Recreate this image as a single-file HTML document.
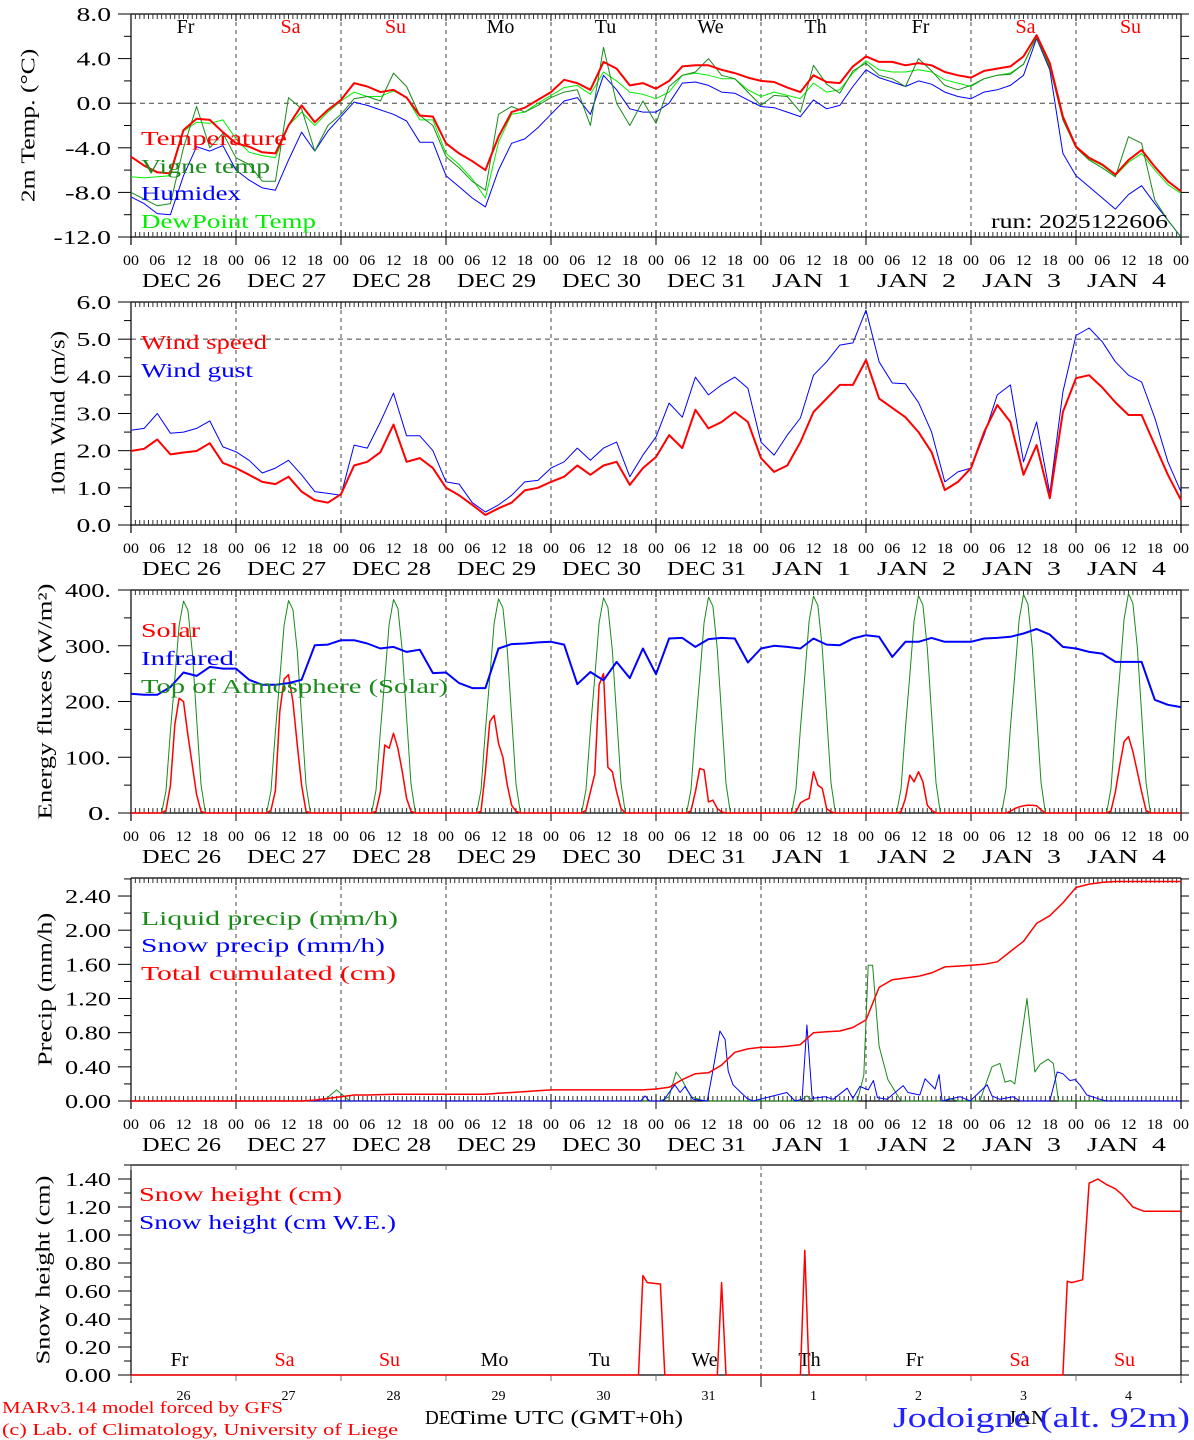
<!DOCTYPE html>
<html><head><meta charset="utf-8">
<style>
html,body{margin:0;padding:0;background:#fff;}
svg{display:block;font-family:"Liberation Serif","DejaVu Serif",serif;}
</style></head>
<body>
<svg id="chart" width="1194" height="1440" viewBox="0 0 1194 1440" xmlns="http://www.w3.org/2000/svg"></svg>
<script>
// ---------- DATA (3-hourly, hours 0..240 from DEC 26 00 UTC) ----------
const temperature = [-4.8,-5.6,-6.2,-6.3,-2.4,-1.4,-1.5,-2.6, -3.6,-3.9,-4.4,-4.5,-2.0,-0.2,-1.7,-0.6, 0.3,1.8,1.5,1.0,1.2,0.5,-1.1,-1.2, -3.6,-4.5,-5.2,-6.0,-3.0,-0.8,-0.4,0.3, 1.0,2.1,1.8,1.2,3.7,3.1,1.6,1.8, 1.3,2.0,3.3,3.4,3.4,3.0,2.7,2.3, 2.0,1.9,1.4,1.0,2.5,1.9,1.8,3.3, 4.2,3.7,3.7,3.4,3.6,3.4,2.8,2.5, 2.3,2.9,3.1,3.3,4.2,6.1,3.6,-1.2, -3.9,-4.9,-5.5,-6.4,-5.1,-4.2,-5.7,-7.0, -7.9];
const vigneTemp = [-8.0,-8.6,-9.2,-9.0,-4.0,-0.3,-4.0,-2.7, -4.9,-5.5,-7.0,-7.0,0.5,-0.5,-4.3,-2.0, -1.0,0.4,0.6,0.2,2.7,1.5,-1.1,-2.0, -4.8,-5.8,-7.0,-7.8,-1.0,-0.3,-0.8,-0.2, 0.5,1.0,1.2,-2.0,5.0,0.0,-2.0,0.2, -1.8,1.5,2.5,2.8,4.0,2.5,2.2,1.0, -0.2,0.7,0.6,-0.8,3.4,1.7,0.9,2.9, 3.6,2.5,2.2,1.5,4.0,2.9,1.6,1.2, 1.6,2.2,2.5,2.6,3.5,5.9,3.2,-1.5, -4.0,-5.1,-5.8,-6.6,-3.0,-3.6,-8.7,-10.5, -12.0];
const humidex = [-8.4,-9.0,-9.9,-10.0,-6.5,-3.9,-4.3,-3.8, -6.0,-6.9,-7.6,-7.8,-5.1,-2.6,-4.3,-2.5, -1.2,0.1,-0.2,-0.6,-1.0,-1.6,-3.5,-3.5, -6.5,-7.5,-8.5,-9.3,-6.0,-3.6,-3.2,-2.2, -1.0,0.2,0.5,-1.0,2.5,1.2,-0.5,-0.8, -0.8,0.0,1.8,1.9,1.6,1.0,0.9,0.3, -0.3,-0.4,-0.8,-1.2,0.3,-0.5,-0.2,1.5, 3.0,2.3,1.9,1.5,2.0,1.7,1.0,0.6, 0.4,1.0,1.2,1.6,2.5,5.8,3.0,-4.5, -6.5,-7.5,-8.5,-9.5,-8.2,-7.4,-9.0,-10.5, -12.0];
const dewPoint = [-6.6,-6.7,-6.6,-6.5,-2.5,-1.7,-1.8,-1.5, -3.2,-4.4,-4.7,-4.9,-2.0,-0.8,-2.0,-0.8, 0.2,1.0,0.6,0.6,1.1,0.5,-1.5,-1.5, -4.5,-5.5,-6.8,-8.5,-3.5,-1.0,-0.8,0.0, 0.7,1.4,1.6,0.8,2.8,2.0,1.0,0.8, 0.4,1.0,2.5,2.7,2.5,2.2,2.2,1.2, 0.6,1.0,0.7,0.4,1.8,1.0,1.2,2.7, 3.8,3.0,2.8,2.8,3.0,2.8,2.1,1.8, 1.5,2.2,2.5,2.7,3.5,6.0,3.4,-1.5, -4.0,-5.0,-5.6,-6.5,-5.3,-4.5,-6.0,-7.3, -8.1];

const windSpeed = [1.99,2.05,2.3,1.9,1.95,1.99,2.2,1.67, 1.53,1.35,1.16,1.1,1.3,0.9,0.67,0.6, 0.83,1.6,1.7,1.96,2.7,1.7,1.8,1.53, 1.0,0.8,0.54,0.27,0.45,0.6,0.93,1.0, 1.16,1.3,1.6,1.35,1.6,1.7,1.08,1.53, 1.83,2.42,2.07,3.1,2.6,2.77,3.04,2.77, 1.8,1.43,1.6,2.23,3.04,3.4,3.77,3.77, 4.44,3.4,3.15,2.9,2.5,1.96,0.94,1.16, 1.53,2.5,3.23,2.77,1.35,2.15,0.72,3.04, 3.95,4.03,3.7,3.3,2.96,2.96,2.15,1.35, 0.67];
const windGust = [2.55,2.6,3.0,2.47,2.5,2.6,2.8,2.1, 1.97,1.74,1.4,1.53,1.74,1.35,0.9,0.85, 0.8,2.15,2.07,2.77,3.55,2.4,2.4,2.0, 1.16,1.1,0.6,0.35,0.54,0.8,1.16,1.2, 1.53,1.7,2.07,1.74,2.07,2.23,1.3,1.88, 2.37,3.28,2.9,3.98,3.5,3.77,3.98,3.68, 2.23,1.88,2.42,2.88,4.03,4.39,4.84,4.9, 5.78,4.39,3.82,3.8,3.3,2.5,1.16,1.43, 1.53,2.42,3.5,3.77,1.7,2.77,0.85,3.58, 5.1,5.3,4.93,4.39,4.03,3.85,2.88,1.7, 0.89];

const infrared = [214,212,212,226,252,246,262,259, 259,239,230,230,233,239,301,302, 310,310,304,295,298,289,293,251, 252,233,224,224,295,303,304,306, 307,302,231,253,238,271,242,295, 249,313,314,298,312,314,313,270, 295,300,298,295,313,302,301,313, 319,316,280,307,307,314,307,307, 307,313,314,316,322,330,320,298, 295,289,286,271,271,271,203,194, 190];

// hourly daytime values, hours 06..18 of each day
const solarDays = [
 [0,0,5,49,158,206,200,140,86,33,3,0,0],
 [0,0,5,40,182,240,248,200,122,50,3,0,0],
 [0,0,3,38,122,116,143,116,74,26,3,0,0],
 [0,0,3,74,164,175,125,100,50,14,3,0,0],
 [0,0,5,38,70,230,250,82,74,38,8,0,0],
 [0,0,4,38,80,77,20,23,8,2,0,0,0],
 [0,0,2,18,23,26,74,50,44,8,2,0,0],
 [0,0,2,26,68,56,74,56,14,5,0,0,0],
 [0,0,0,3,8,11,13,14,14,13,6,0,0],
 [0,0,4,38,86,128,137,110,74,38,5,0,0]
];
const toaDays = [
 [0,0,40,146,240,336,380,364,289,170,51,0,0],
 [0,0,40,146,241,337,381,365,290,171,51,0,0],
 [0,0,41,147,242,338,383,367,291,172,52,0,0],
 [0,0,41,148,243,340,384,368,292,173,52,0,0],
 [0,0,42,149,244,341,386,369,293,174,53,0,0],
 [0,0,42,150,245,342,387,371,294,175,53,0,0],
 [0,0,43,151,246,344,389,372,295,176,54,0,0],
 [0,0,43,152,247,345,390,373,296,177,54,0,0],
 [0,0,44,153,248,346,392,375,297,178,55,0,0],
 [0,0,44,154,249,348,394,376,298,179,55,0,0]
];

const cumHours = [0,39,42,45,48,51,54,57,60,81,84,87,90,93,96,117,120,123,126,129,132,135,138,141,144,147,150,153,156,159,162,165,168,171,174,177,180,183,186,189,192,195,198,201,204,207,210,213,216,219,222,225,240];
const cumPrecip = [0,0,0.01,0.03,0.05,0.07,0.07,0.075,0.08,0.08,0.09,0.10,0.11,0.12,0.13,0.13,0.14,0.16,0.25,0.32,0.33,0.42,0.57,0.61,0.63,0.63,0.64,0.66,0.80,0.81,0.82,0.86,0.95,1.33,1.42,1.44,1.46,1.50,1.57,1.58,1.59,1.60,1.63,1.75,1.87,2.08,2.17,2.32,2.50,2.54,2.56,2.57,2.57];
const liqHours = [0,44,47,50,121,123,124.6,126,128,131,153,154.5,156,166,167.5,168.5,169.5,171,173,176,186,187,189,194,196.8,198.6,199.8,201,202,204.8,206.6,207.8,209.6,210.8,212,240];
const liqPrecip = [0,0,0.13,0,0,0.05,0.34,0.24,0.05,0,0,0.06,0,0,0.3,1.59,1.59,0.64,0.25,0,0,0.03,0,0,0.4,0.44,0.22,0.24,0.2,1.2,0.34,0.43,0.49,0.44,0,0];
const snowPHours = [0,116.5,117.5,118.5,121.6,124.3,125.5,126.6,128.5,131.7,132.8,134.6,135.8,136.5,137.6,140.8,142.2,149.9,151.8,153.4,154.5,155.7,158.6,160.5,163.7,165,166.6,168.5,169.7,170.6,172.8,176.5,177.6,180.3,181.5,183.8,184.7,185.4,189.5,191.8,195.7,196.8,198.6,201.6,203.2,210,211.7,213,214.6,215.8,216.9,218.5,221.5,223,240];
const snowPrecip = [0,0,0.06,0,0,0.19,0.1,0.17,0.02,0,0.3,0.82,0.72,0.35,0.19,0.03,0,0.1,0,0.02,0.89,0.03,0.05,0.02,0.15,0.03,0.17,0.13,0.24,0.04,0.02,0.18,0.1,0.07,0.26,0.14,0.31,0,0.05,0,0.19,0.06,0.02,0.05,0,0,0.34,0.32,0.24,0.25,0.19,0.07,0.02,0,0];

const snowHours = [0,116,117,118,121,122,134,135,136,153,154,155,213,214,215,217.5,219,221,223,225,226.5,229,231.5,240];
const snowHeight = [0,0,0.71,0.66,0.65,0,0,0.66,0,0,0.89,0,0,0.67,0.66,0.68,1.37,1.40,1.36,1.33,1.29,1.20,1.17,1.17];

const dayNames = ["Fr","Sa","Su","Mo","Tu","We","Th","Fr","Sa","Su"];
const dayColors = ["#000","#f00","#f00","#000","#000","#000","#000","#000","#f00","#f00"];
const dateLabels = ["DEC 26","DEC 27","DEC 28","DEC 29","DEC 30","DEC 31","JAN  1","JAN  2","JAN  3","JAN  4"];
const dayNums = ["26","27","28","29","30","31","1","2","3","4"];
const hourLabels = ["00","06","12","18"];

// ---------- helpers ----------
const svg = document.getElementById('chart');
const NS = 'http://www.w3.org/2000/svg';
const X0 = 131, X1 = 1181, PXH = (X1 - X0) / 240;
function X(h){ return X0 + h * PXH; }
function mk(tag, attrs, name){
  const e = document.createElementNS(NS, tag);
  for (const k in attrs) e.setAttribute(k, attrs[k]);
  
  
  svg.appendChild(e);
  return e;
}
function txt(x, y, s, size, fill, anchor, name, len){
  const a = {x:x, y:y, 'font-size':size, fill:fill, 'text-anchor':anchor||'start'};
  if (len) { a.textLength = len; a.lengthAdjust = 'spacingAndGlyphs'; }
  const t = mk('text', a, name);
  t.setAttribute('style', 'white-space:pre');
  t.textContent = s;
  return t;
}
function line(x1,y1,x2,y2,stroke,w,name,dash){
  const a = {x1:x1,y1:y1,x2:x2,y2:y2,stroke:stroke,'stroke-width':w||1};
  if (dash) a['stroke-dasharray'] = dash;
  return mk('line', a, name);
}
function poly(hs, vs, yf, color, w, name){
  const pts = hs.map((h,i) => X(h).toFixed(1) + ',' + yf(vs[i]).toFixed(1)).join(' ');
  return mk('polyline', {points:pts, fill:'none', stroke:color, 'stroke-width':w, 'stroke-linejoin':'round'}, name);
}
const hours3 = Array.from({length:81}, (_, i) => i * 3);
function dayHours(arr){ const hs=[0], vs=[0]; arr.forEach((d,di)=>d.forEach((v,i)=>{hs.push(di*24+6+i); vs.push(v);})); hs.push(240); vs.push(0); return [hs,vs]; }

const panels = [
  {top:14, bot:237, min:-12, max:8, major:4, minor:2, fmt:v=>v.toFixed(1), title:"2m Temp. (°C)", tx:30, zero:0},
  {top:302, bot:525, min:0, max:6, major:1, minor:0.5, fmt:v=>v.toFixed(1), title:"10m Wind (m/s)", tx:60, zero:5},
  {top:590, bot:813, min:0, max:400, major:100, minor:50, fmt:v=>v.toFixed(0)+'.', title:"Energy fluxes (W/m²)", tx:47},
  {top:878, bot:1101, min:0, max:2.611, major:0.4, minor:0.2, fmt:v=>v.toFixed(2), title:"Precip (mm/h)", tx:47, lmax:2.4},
  {top:1165, bot:1375, min:0, max:1.5, major:0.2, minor:0.1, fmt:v=>v.toFixed(2), title:"Snow height (cm)", tx:45, lmax:1.4}
];
panels.forEach(p => { p.y = v => p.bot - (v - p.min) * (p.bot - p.top) / (p.max - p.min); });
const [P1,P2,P3,P4,P5] = panels;

// ---------- axes ----------
panels.forEach((p, pi) => {
  const isSnow = pi === 4;
  for (let d = 1; d < 10; d++) {
    if (!isSnow || d === 6) line(X(d*24), p.top, X(d*24), p.bot, '#444', 1, 'day-gridline', '4,4');
  }
  if (p.zero !== undefined) line(X0, p.y(p.zero), X1, p.y(p.zero), '#444', 1, 'reference-gridline', '5,4');
  line(X0, p.top, X1, p.top, '#000', 1.2, 'top-axis');
  line(X0, p.bot, X1, p.bot, '#000', 1.2, 'x-axis');
  line(X0, p.top, X0, p.bot + 8, '#000', 1.2, 'y-axis');
  line(X1, p.top, X1, p.bot + 8, '#000', 1.2, 'right-axis');
  if (!isSnow) {
    for (let h = 0; h <= 240; h++) {
      const big = h % 24 === 0;
      line(X(h), p.bot, X(h), p.bot - (big ? 7 : 5), big ? '#000' : '#333', 1, 'x-tick');
      line(X(h), p.top, X(h), p.top + (big ? 7 : 5), big ? '#000' : '#333', 1, 'x-tick-top');
      if (big) line(X(h), p.bot, X(h), p.bot + 8, '#000', 1, 'x-day-tick');
    }
    for (let h = 0; h <= 240; h += 6) {
      txt(X(h), p.bot + 28, hourLabels[(h/6)%4], 15, '#000', 'middle', 'hour-tick-label', 16);
    }
    for (let d = 0; d < 10; d++) {
      txt(X(d*24 + 12) - 2, p.bot + 50, dateLabels[d], 20, '#000', 'middle', 'date-label', 79);
    }
  } else {
    for (let d = 0; d <= 10; d++) {
      line(X(d*24), p.bot, X(d*24), p.bot + 6, '#777', 1, 'x-day-tick');
      line(X(d*24), p.top, X(d*24), p.top + 5, '#777', 1, 'x-day-tick-top');
    }
    line(X(144), p.bot, X(144), p.bot + 12, '#000', 1, 'x-jan-tick');
    for (let d = 0; d < 10; d++) {
      txt(X(d*24+12), p.bot + 25, dayNums[d], 14, '#000', 'middle', 'day-number-label');
      txt(X(d*24+12) - 4, p.bot - 9, dayNames[d], 20, dayColors[d], 'middle', 'weekday-label');
    }
  }
  const lmax = p.lmax !== undefined ? p.lmax : p.max;
  for (let v = p.min; v <= p.max + 1e-9; v += p.minor) {
    const vv = Math.round(v*1000)/1000;
    const isMaj = Math.abs(vv/p.major - Math.round(vv/p.major)) < 1e-6;
    const y = p.y(vv);
    line(X0 - (isMaj ? 13 : 7), y, X0, y, '#000', 1, 'y-tick');
    line(X1, y, X1 + 8, y, '#000', 1, 'y-tick-right');
    if (isMaj && vv <= lmax + 1e-9) {
      const s = p.fmt(vv);
      txt(111, y + 7, s, 20, '#000', 'end', 'y-tick-label', s.length * 11.5);
    }
  }
  const cy = (p.top + p.bot) / 2;
  const t = txt(p.tx, cy, p.title, 20, '#000', 'middle', 'y-axis-title', p.title.length * 11.8);
  t.setAttribute('transform', 'rotate(-90 ' + p.tx + ' ' + cy + ')');
  t.setAttribute('dominant-baseline', 'middle');
});

// ---------- panel 1 ----------
for (let d = 0; d < 10; d++) txt(X(d*24+12) + 2, 33, dayNames[d], 20, dayColors[d], 'middle', 'weekday-label');
poly(hours3, humidex, P1.y, '#0000ff', 1, 'humidex-line');
poly(hours3, dewPoint, P1.y, '#00ee00', 1, 'dewpoint-line');
poly(hours3, vigneTemp, P1.y, '#1a8a1a', 1, 'vigne-temp-line');
poly(hours3, temperature, P1.y, '#ff0000', 2, 'temperature-line');
txt(141, 145, 'Temperature', 20, '#ff0000', 'start', 'legend-temperature', 146);
txt(141, 173, 'Vigne temp', 20, '#1a8a1a', 'start', 'legend-vigne-temp', 129);
txt(141, 200, 'Humidex', 20, '#0000ff', 'start', 'legend-humidex', 100);
txt(141, 228, 'DewPoint Temp', 20, '#00ee00', 'start', 'legend-dewpoint', 175);
txt(1168, 228, 'run: 2025122606', 20, '#000', 'end', 'run-label', 177);

// ---------- panel 2 ----------
poly(hours3, windGust, P2.y, '#0000ff', 1, 'wind-gust-line');
poly(hours3, windSpeed, P2.y, '#ff0000', 2, 'wind-speed-line');
txt(141, 349, 'Wind speed', 20, '#ff0000', 'start', 'legend-wind-speed', 126);
txt(141, 377, 'Wind gust', 20, '#0000ff', 'start', 'legend-wind-gust', 112);

// ---------- panel 3 ----------
const [th, tv] = dayHours(toaDays);
const [sh, sv] = dayHours(solarDays);
poly(th, tv, P3.y, '#1a8a1a', 1, 'toa-solar-line');
poly(sh, sv, P3.y, '#ff0000', 1.5, 'solar-line');
poly(hours3, infrared, P3.y, '#0000ff', 2, 'infrared-line');
txt(141, 637, 'Solar', 20, '#ff0000', 'start', 'legend-solar', 59);
txt(141, 665, 'Infrared', 20, '#0000ff', 'start', 'legend-infrared', 93);
txt(141, 693, 'Top of Atmosphere (Solar)', 20, '#1a8a1a', 'start', 'legend-toa', 307);

// ---------- panel 4 ----------
poly(liqHours, liqPrecip, P4.y, '#1a8a1a', 1, 'liquid-precip-line');
poly(snowPHours, snowPrecip, P4.y, '#0000ff', 1, 'snow-precip-line');
poly(cumHours, cumPrecip, P4.y, '#ff0000', 1.5, 'total-cumulated-line');
txt(141, 925, 'Liquid precip (mm/h)', 20, '#1a8a1a', 'start', 'legend-liquid-precip', 257);
txt(141, 952, 'Snow precip (mm/h)', 20, '#0000ff', 'start', 'legend-snow-precip', 244);
txt(141, 980, 'Total cumulated (cm)', 20, '#ff0000', 'start', 'legend-total-cumulated', 255);

// ---------- panel 5 ----------
poly(snowHours, snowHeight, P5.y, '#ff0000', 1.5, 'snow-height-line');
txt(139, 1201, 'Snow height (cm)', 20, '#ff0000', 'start', 'legend-snow-height', 203);
txt(139, 1229, 'Snow height (cm W.E.)', 20, '#0000ff', 'start', 'legend-snow-height-we', 257);

// ---------- footer ----------
txt(2, 1413, 'MARv3.14 model forced by GFS', 17, '#ff0000', 'start', 'model-credit', 281);
txt(2, 1435, '(c) Lab. of Climatology, University of Liege', 17, '#ff0000', 'start', 'lab-credit', 396);
txt(425, 1424, 'DEC', 20, '#000', 'start', 'x-month-dec', 38);
txt(455, 1424, 'Time UTC (GMT+0h)', 20, '#000', 'start', 'x-axis-title', 228);
txt(1008, 1424, 'JAN', 20, '#000', 'start', 'x-month-jan', 38);
txt(893, 1427, 'Jodoigne (alt. 92m)', 28, '#2222ff', 'start', 'location-label', 297);
</script>
</body></html>
